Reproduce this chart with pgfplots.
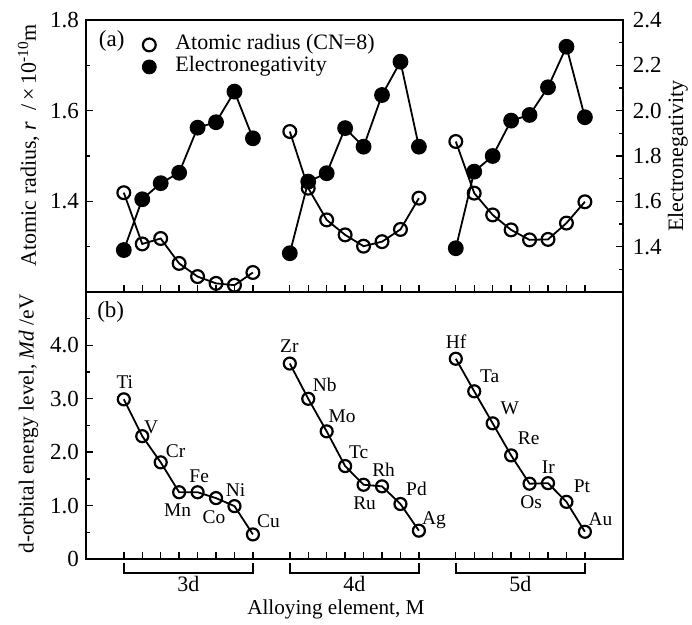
\documentclass[border=0pt]{standalone}
\usepackage{pgfplots}
\pgfplotsset{compat=1.18}
\usepackage{pgfplotstable}
\usepackage{fontspec}
\setmainfont{Liberation Serif}
\newcommand\fs[1]{\fontsize{#1}{#1}\selectfont}

\pgfplotstableread{
x r en md lab dx dy
0 1.419 1.385 2.99 Ti 0.5 8.7
1 1.306 1.609 2.30 V 4.5 4.5
2 1.318 1.680 1.81 Cr 7.5 5.5
3 1.263 1.726 1.25 Mn -0.8 -8.8
4 1.234 1.925 1.25 Fe 0.8 7.8
5 1.219 1.949 1.14 Co -1 -9.3
6 1.215 2.084 0.99 Ni 0.5 8.2
7 1.243 1.878 0.46 Cu 7.8 6.7
}\tdthree
\pgfplotstableread{
x r en md lab dx dy
9 1.554 1.371 3.66 Zr -0.2 8.5
10 1.429 1.687 3.00 Nb 8.2 7
11 1.359 1.724 2.39 Mo 7.7 7.5
12 1.326 1.923 1.74 Tc 6.8 6.8
13 1.301 1.841 1.39 Ru 0.5 -9.3
14 1.311 2.069 1.36 Rh 0.8 8
15 1.338 2.216 1.03 Pd 8 7.3
16 1.407 1.841 0.53 Ag 7.5 6.3
}\tdfour
\pgfplotstableread{
x r en md lab dx dy
18 1.532 1.393 3.75 Hf 0.2 8.2
19 1.418 1.731 3.14 Ta 7.7 7.8
20 1.370 1.800 2.54 W 8.5 7.7
21 1.337 1.956 1.94 Re 8.8 8.7
22 1.315 1.981 1.41 Os 0.8 -9.3
23 1.316 2.103 1.42 Ir 0.2 8.2
24 1.352 2.282 1.07 Pt 7.7 8
25 1.399 1.971 0.51 Au 7.8 6.2
}\tdfive

\pgfplotsset{
  base/.style={
    scale only axis, width=268.35pt,
    xmin=-2.05, xmax=27.05, clip=false,
    axis line style={line width=1pt},
    every tick/.style={black, line width=0.7pt},
    major tick length=3.5pt, minor tick length=2pt,
    xtick={0,1,2,3,4,5,6,7,9,10,11,12,13,14,15,16,18,19,20,21,22,23,24,25},
    xticklabels={}, xtick pos=left,
    tick label style={font=\fs{11.5}},
  },
  rad/.style={black, line width=0.9pt, mark=o, mark size=3.2pt,
    mark options={fill=white, line width=1.1pt}, forget plot},
  eng/.style={black, line width=0.9pt, mark=*, mark size=3.5pt,
    mark options={fill=black}, forget plot},
  mdp/.style={black, line width=0.9pt, mark=o, mark size=3.0pt,
    mark options={fill=white, line width=1.1pt}, forget plot,
    nodes near coords, point meta=explicit symbolic,
    visualization depends on={\thisrow{dx}\as\ldx},
    visualization depends on={\thisrow{dy}\as\ldy},
    nodes near coords style={anchor=center, xshift=\ldx pt, yshift=\ldy pt,
      font=\fs{9.7}, inner sep=0pt, text height=6.3pt, text depth=0pt}},
}

\begin{document}
\begin{tikzpicture}
% ---------- (a) atomic radius, left axis ----------
\begin{axis}[base, at={(43pt,166.5pt)}, anchor=south west, height=136pt,
  ymin=1.2, ymax=1.8,
  ytick={1.4,1.6,1.8}, yticklabels={1.4,1.6,1.8},
  minor ytick={1.3,1.5,1.7}, ytick pos=left,
  ylabel={Atomic radius, \textit{r}\ \ /\,×\,10\textsuperscript{-10}m},
  every axis y label/.style={at={(axis description cs:-0.107,0.54)}, rotate=90, anchor=center, font=\fs{11}},
  legend style={draw=none, fill=none, font=\fs{11},
    at={(rel axis cs:0.093,0.965)}, anchor=north west,
    nodes={inner sep=0.5pt, text height=7.5pt, text depth=2.5pt},
    /tikz/every odd column/.append style={column sep=9pt}},
  legend cell align=left,
]
\addlegendimage{only marks, mark=o, mark size=3.2pt, mark options={line width=1.1pt}}
\addlegendentry{Atomic radius (CN=8)}
\addlegendimage{only marks, mark=*, mark size=3.5pt}
\addlegendentry{Electronegativity}
\addplot[rad] table[x=x, y=r] {\tdthree};
\addplot[rad] table[x=x, y=r] {\tdfour};
\addplot[rad] table[x=x, y=r] {\tdfive};
\node[font=\fs{11.5}, anchor=center] at (rel axis cs:0.048,0.923) {(a)};
\end{axis}
% ---------- (a) electronegativity, right axis ----------
\begin{axis}[base, at={(43pt,166.5pt)}, anchor=south west, height=136pt,
  ymin=1.2, ymax=2.4, hide x axis, axis y line*=right,
  ytick={1.4,1.6,1.8,2.0,2.2,2.4}, yticklabels={1.4,1.6,1.8,2.0,2.2,2.4},
  minor ytick={1.3,1.5,1.7,1.9,2.1,2.3},
  yticklabel style={xshift=1.5pt},
  ylabel={Electronegativity},
  every axis y label/.style={at={(axis description cs:1.103,0.5)}, rotate=90, anchor=center, font=\fs{11}},
]
\addplot[eng] table[x=x, y=en] {\tdthree};
\addplot[eng] table[x=x, y=en] {\tdfour};
\addplot[eng] table[x=x, y=en] {\tdfive};
\end{axis}
% ---------- (b) Md ----------
\begin{axis}[base, at={(43pt,33pt)}, anchor=south west, height=133.5pt,
  ymin=0, ymax=5,
  ytick={0,1,2,3,4}, yticklabels={0,1.0,2.0,3.0,4.0},
  minor ytick={0.5,1.5,2.5,3.5,4.5}, ytick pos=left,
  ylabel={d-orbital energy level, \textit{Md} /eV},
  every axis y label/.style={at={(axis description cs:-0.107,0.506)}, rotate=90, anchor=center, font=\fs{10.7}},
]
\addplot[mdp] table[x=x, y=md, meta=lab] {\tdthree};
\addplot[mdp] table[x=x, y=md, meta=lab] {\tdfour};
\addplot[mdp] table[x=x, y=md, meta=lab] {\tdfive};
\node[font=\fs{11.5}, anchor=center] at (rel axis cs:0.046,0.926) {(b)};
\draw[line width=0.9pt] ([yshift=-1.9pt]axis cs:0,0) -- ([yshift=-6.9pt]axis cs:0,0) -- ([yshift=-6.9pt]axis cs:7,0) -- ([yshift=-1.9pt]axis cs:7,0);
\draw[line width=0.9pt] ([yshift=-1.9pt]axis cs:9,0) -- ([yshift=-6.9pt]axis cs:9,0) -- ([yshift=-6.9pt]axis cs:16,0) -- ([yshift=-1.9pt]axis cs:16,0);
\draw[line width=0.9pt] ([yshift=-1.9pt]axis cs:18,0) -- ([yshift=-6.9pt]axis cs:18,0) -- ([yshift=-6.9pt]axis cs:25,0) -- ([yshift=-1.9pt]axis cs:25,0);
\node[font=\fs{11}] at ([yshift=-12.4pt]axis cs:3.5,0) {3d};
\node[font=\fs{11}] at ([yshift=-12.4pt]axis cs:12.5,0) {4d};
\node[font=\fs{11}] at ([yshift=-12.4pt]axis cs:21.5,0) {5d};
\node[font=\fs{10.6}] at ([yshift=-25pt]axis cs:11.5,0) {Alloying element, M};
\end{axis}
\pgfresetboundingbox
\useasboundingbox (0pt,0pt) rectangle (346pt,312.5pt);
\end{tikzpicture}
\end{document}
